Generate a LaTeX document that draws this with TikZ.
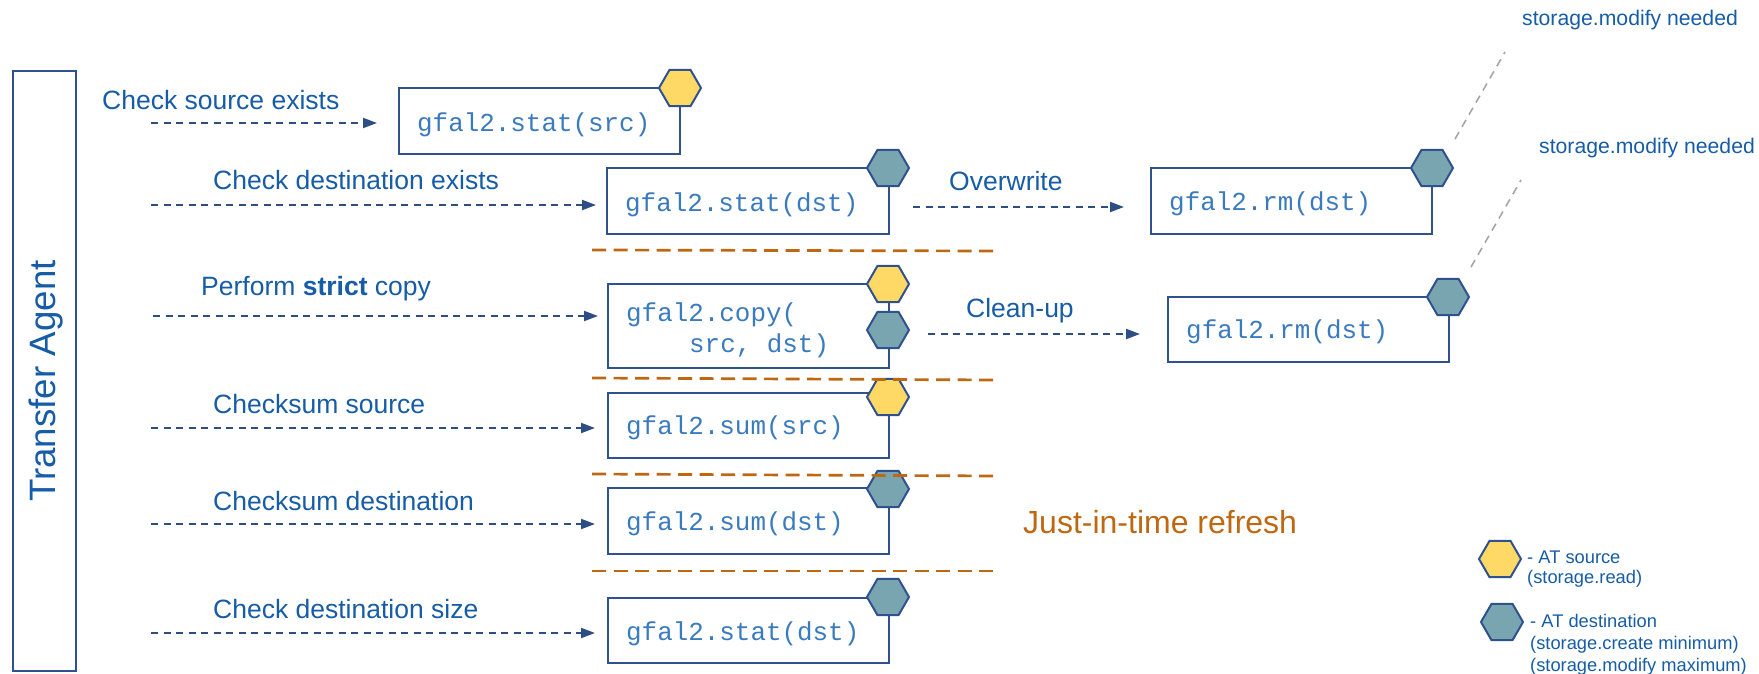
\documentclass[tikz,border=0pt]{standalone}
\usepackage{fontspec}
\setmainfont{Liberation Sans}
\setmonofont{Liberation Mono}
\usetikzlibrary{arrows.meta,shapes.geometric}
\definecolor{frame}{RGB}{47,82,143}
\definecolor{arrowc}{RGB}{44,78,130}
\definecolor{lblue}{RGB}{22,92,166}
\definecolor{cblue}{RGB}{58,122,190}
\definecolor{orng}{RGB}{191,104,18}
\definecolor{tealc}{RGB}{120,165,175}
\definecolor{yelc}{RGB}{255,217,102}
\definecolor{grayc}{RGB}{166,166,166}
\tikzset{
  codebox/.style={draw=frame, line width=2pt, inner sep=0pt, anchor=north west, minimum width=281pt},
  hexsrc/.style={regular polygon, regular polygon sides=6, draw=frame, line width=2pt, fill=yelc, minimum size=42pt, inner sep=0pt},
  hexdst/.style={hexsrc, fill=tealc},
  code/.style={anchor=base west, inner sep=0pt, text=cblue, font=\ttfamily\fontsize{25.9}{30}\selectfont},
  lbl/.style={anchor=base west, inner sep=0pt, text=lblue, font=\fontsize{26.5}{30}\selectfont},
  note/.style={anchor=base west, inner sep=0pt, text=lblue, font=\fontsize{21.2}{25}\selectfont},
  leg/.style={anchor=base west, inner sep=0pt, text=lblue, font=\fontsize{18.3}{22}\selectfont},
  flow/.style={draw=arrowc, line width=2pt, dash pattern=on 7pt off 5.5pt, -{Triangle[length=14pt,width=10pt]}},
  sep/.style={draw=orng, line width=2.7pt, dash pattern=on 14pt off 7.5pt},
  hint/.style={draw=grayc, line width=1.6pt, dash pattern=on 8pt off 6pt}
}
\begin{document}
\begin{tikzpicture}[x=1pt,y=-1pt]
\useasboundingbox (0,0) rectangle (1759,673);
% Transfer Agent
\node[draw=frame, line width=2pt, inner sep=0pt, anchor=north west, minimum width=63pt, minimum height=600pt] (ta) at (12,70) {};
\node[rotate=90, anchor=base, inner sep=0pt, text=lblue, font=\fontsize{36.7}{40}\selectfont] (tat) at (55,381) {Transfer Agent};
% boxes
\node[codebox, minimum height=66pt] (b1) at (398,87) {};
\node[codebox, minimum height=66pt, minimum width=282pt] (b2) at (606,167) {};
\node[codebox, minimum height=66pt] (b3) at (1150,167) {};
\node[codebox, minimum height=84pt] (b4) at (607,283) {};
\node[codebox, minimum height=65pt] (b5) at (1167,296) {};
\node[codebox, minimum height=65pt] (b6) at (607,392) {};
\node[codebox, minimum height=66pt] (b7) at (607,487) {};
\node[codebox, minimum height=65pt] (b8) at (607,597) {};
% hexagons
\node[hexsrc] (h1) at (680,88) {};
\node[hexdst] (h2) at (888,168) {};
\node[hexdst] (h3) at (1432,168) {};
\node[hexsrc] (h4) at (888,284) {};
\node[hexdst] (h4b) at (888,330) {};
\node[hexdst] (h5) at (1448,297) {};
\node[hexsrc] (h6) at (888,397) {};
\node[hexdst] (h7) at (888,489) {};
\node[hexdst] (h8) at (888,597) {};
% code texts
\node[code] (t1) at (417,131) {gfal2.stat(src)};
\node[code] (t2) at (625,211) {gfal2.stat(dst)};
\node[code] (t3) at (1169,210) {gfal2.rm(dst)};
\node[code] (t4) at (626,321) {gfal2.copy(};
\node[code] (t4b) at (689,352) {src, dst)};
\node[code] (t5) at (1186,338) {gfal2.rm(dst)};
\node[code] (t6) at (626,434) {gfal2.sum(src)};
\node[code] (t7) at (626,530) {gfal2.sum(dst)};
\node[code] (t8) at (626,640) {gfal2.stat(dst)};
% labels
\node[lbl] (l1) at (102,109) {Check source exists};
\node[lbl] (l2) at (213,189) {Check destination exists};
\node[lbl] (l3) at (201,295) {Perform \textbf{strict} copy};
\node[lbl] (l4) at (213,413) {Checksum source};
\node[lbl] (l5) at (213,510) {Checksum destination};
\node[lbl] (l6) at (213,618) {Check destination size};
\node[lbl] (ow) at (949,190) {Overwrite};
\node[lbl] (cu) at (966,317) {Clean-up};
\node[anchor=base west, inner sep=0pt, text=orng, font=\fontsize{32}{36}\selectfont] (jit) at (1023,533) {Just-in-time refresh};
\node[note] (sm1) at (1522,25) {storage.modify needed};
\node[note] (sm2) at (1539,153) {storage.modify needed};
% arrow starts
\coordinate (s1) at (151,123);
\coordinate (s2) at (151,205);
\coordinate (s3) at (153,316);
\coordinate (s4) at (151,428);
\coordinate (s5) at (151,524);
\coordinate (s6) at (151,633);
\draw[flow, shorten >=21pt] (s1) -- (s1 -| b1.west);
\draw[flow, shorten >=10pt] (s2) -- (s2 -| b2.west);
\draw[flow, shorten >=9pt] (s3) -- (s3 -| b4.west);
\draw[flow, shorten >=12pt] (s4) -- (s4 -| b6.west);
\draw[flow, shorten >=12pt] (s5) -- (s5 -| b7.west);
\draw[flow, shorten >=12pt] (s6) -- (s6 -| b8.west);
\draw[flow, shorten <=23pt, shorten >=26pt] ([yshift=-6pt]b2.east) -- ([yshift=-6pt]b2.east -| b3.west);
\draw[flow, shorten <=38pt, shorten >=27pt] ([yshift=-8pt]b4.east) -- ([yshift=-8pt]b4.east -| b5.west);
% separators
\draw[sep] (592,250) -- (998,251);
\draw[sep] (592,378) -- (998,380);
\draw[sep] (592,474) -- (998,476);
\draw[sep] (592,571) -- (998,571);
% hint lines
\coordinate (g1a) at (1455,139);
\coordinate (g1b) at (1505,52);
\coordinate (g2a) at (1471,267);
\coordinate (g2b) at (1521,180);
\draw[hint] (g1a) -- (g1b);
\draw[hint] (g2a) -- (g2b);
% legend
\node[hexsrc] (lh1) at (1500,559) {};
\node[hexdst] (lh2) at (1502,622) {};
\node[leg] (lg1) at (1527,563) {- AT source};
\node[leg] (lg2) at (1527,583) {(storage.read)};
\node[leg] (lg3) at (1530,627) {- AT destination};
\node[leg] (lg4) at (1530,649) {(storage.create minimum)};
\node[leg] (lg5) at (1530,671) {(storage.modify maximum)};
\end{tikzpicture}
\end{document}
